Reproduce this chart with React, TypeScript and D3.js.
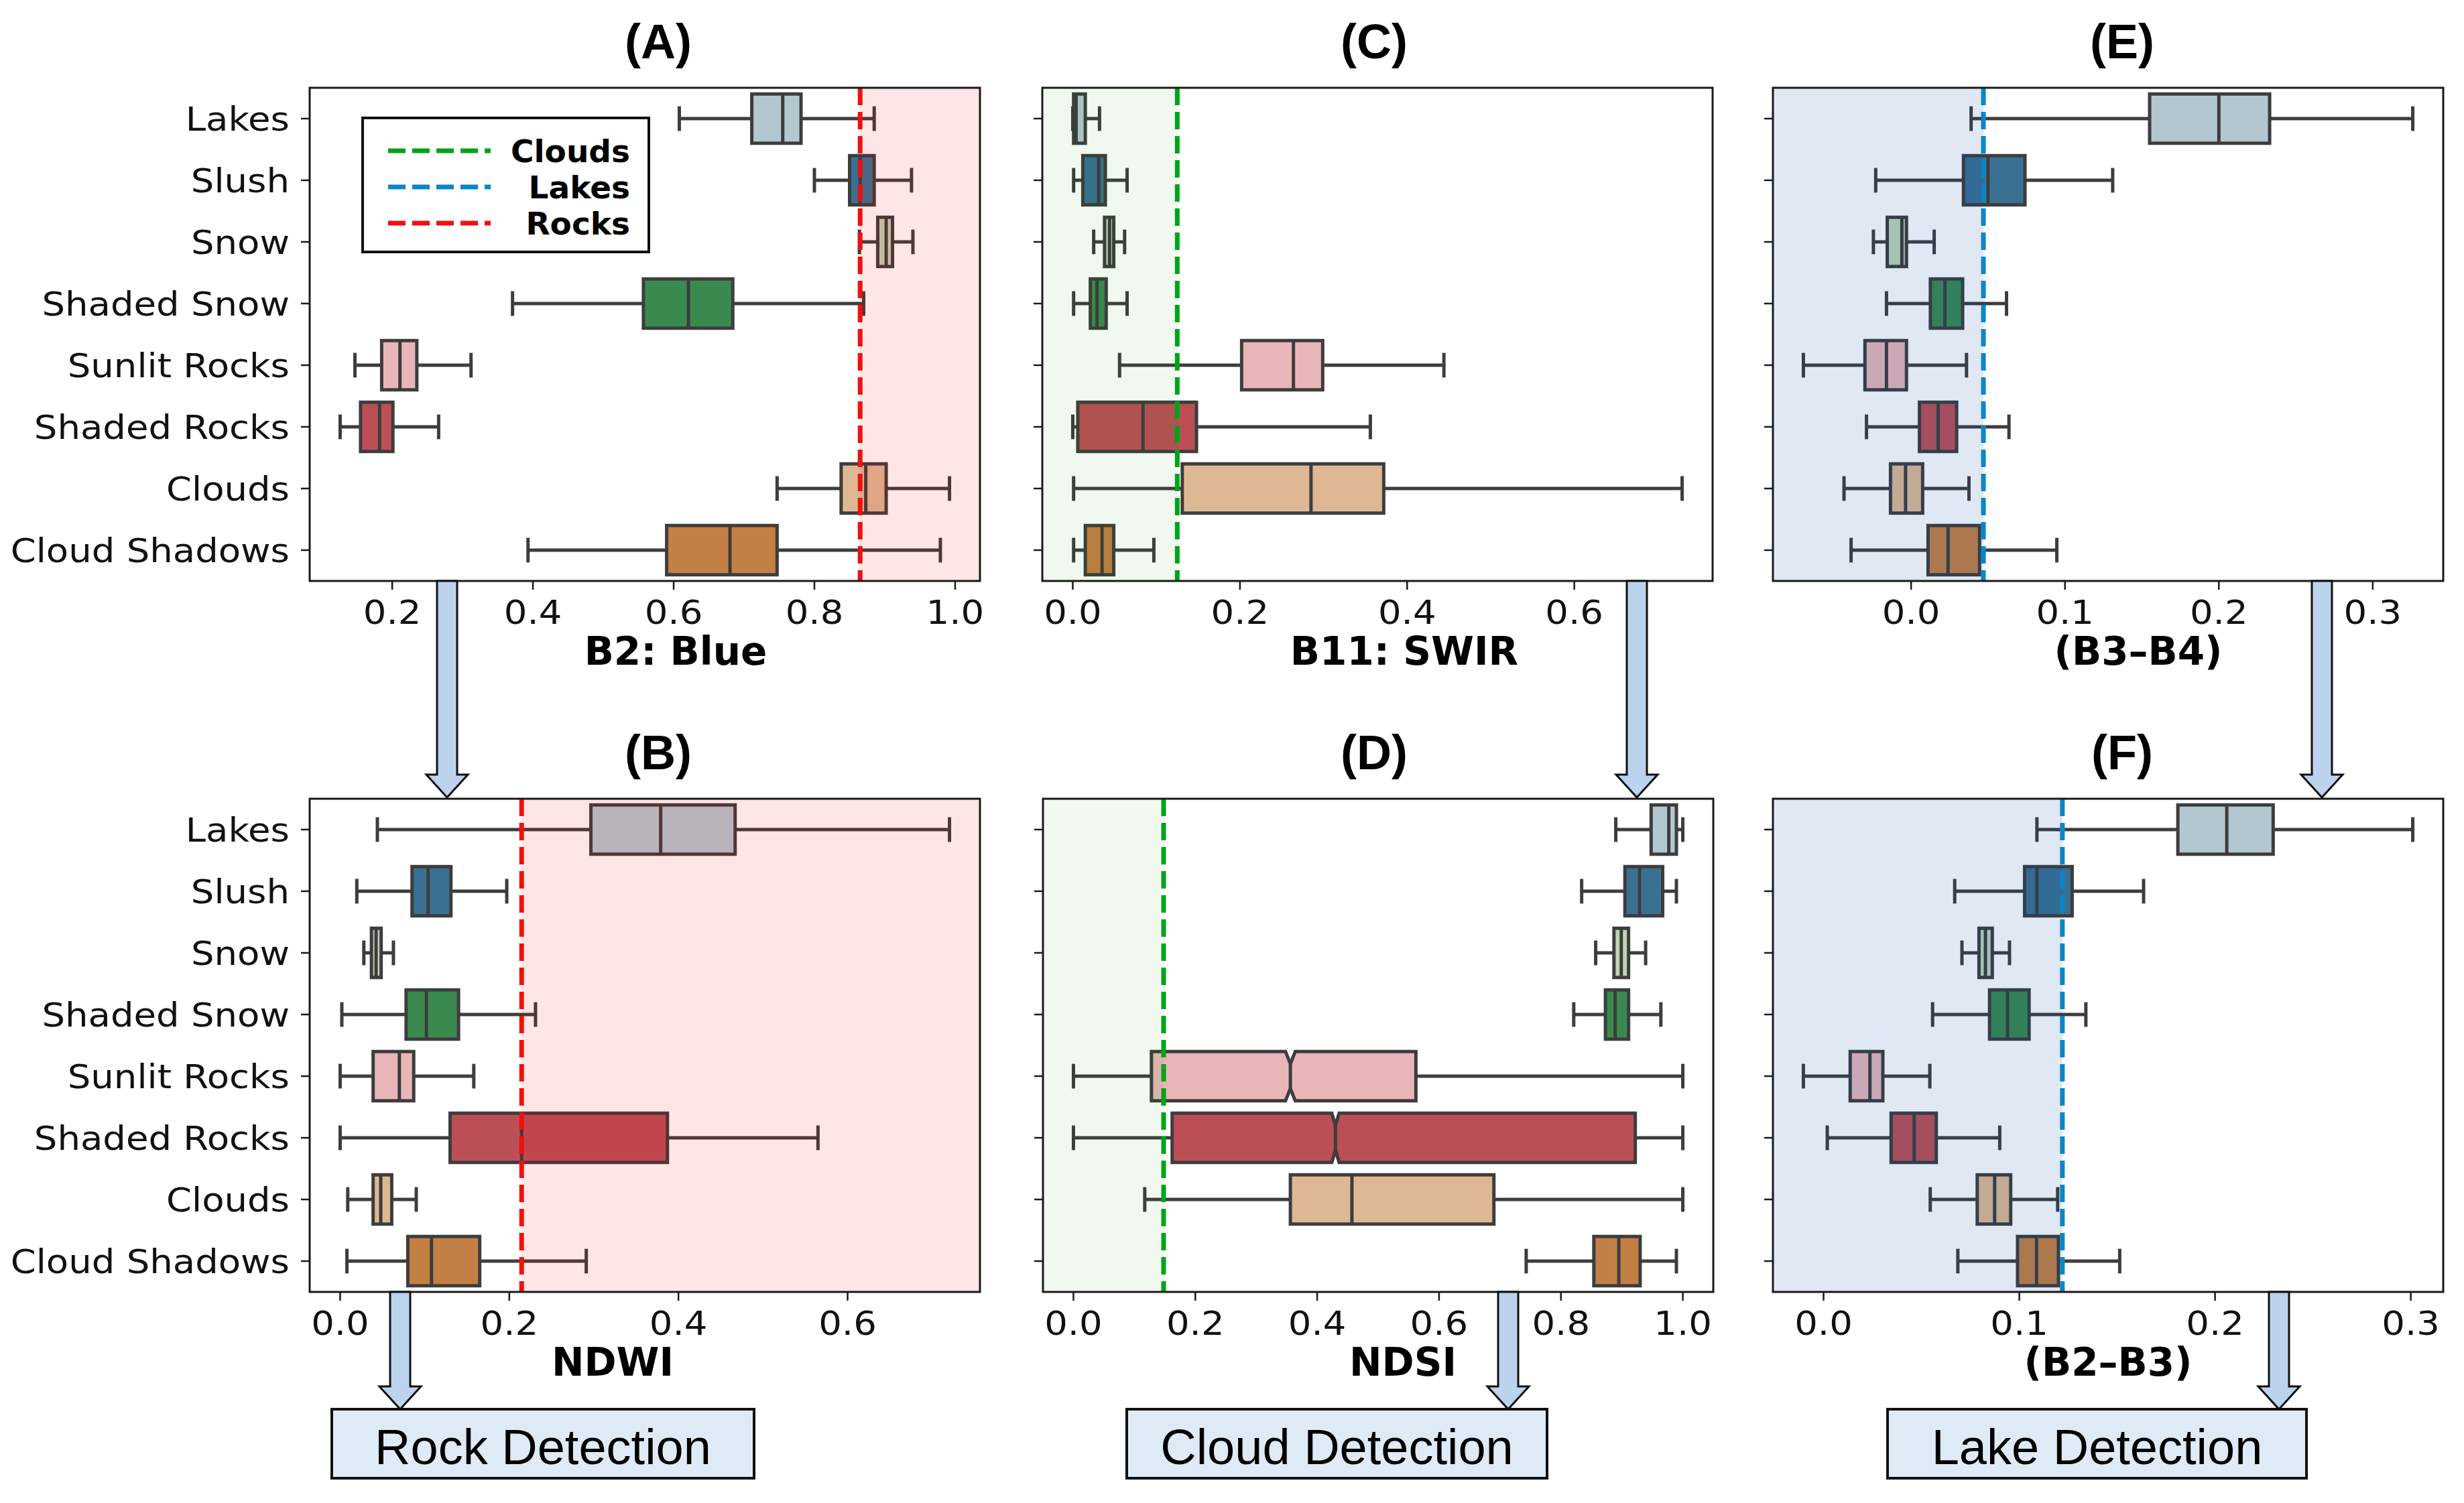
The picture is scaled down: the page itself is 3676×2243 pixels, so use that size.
import { useEffect } from "react"
import * as d3 from "d3"

// Classes on the y axis (top to bottom) and their box colours
const categories = ["Lakes", "Slush", "Snow", "Shaded Snow", "Sunlit Rocks", "Shaded Rocks", "Clouds", "Cloud Shadows"]
const classColors = ["#b3c7d0", "#3a7192", "#bdd4b5", "#3a8a50", "#e8b6b9", "#bc4f56", "#deb894", "#c47f45"]

// Box stats per class: [whisker low, q1, median, q3, whisker high]
const blueStats = [
  [0.608, 0.711, 0.755, 0.781, 0.885],
  [0.8, 0.85, 0.865, 0.885, 0.938],
  [0.864, 0.89, 0.902, 0.911, 0.94],
  [0.371, 0.557, 0.621, 0.684, 0.87],
  [0.147, 0.185, 0.211, 0.235, 0.312],
  [0.126, 0.155, 0.182, 0.201, 0.266],
  [0.747, 0.838, 0.873, 0.902, 0.992],
  [0.393, 0.59, 0.68, 0.747, 0.979],
]
const swirStats = [
  [0.0, 0.001, 0.004, 0.015, 0.032],
  [0.001, 0.012, 0.031, 0.039, 0.065],
  [0.025, 0.038, 0.044, 0.049, 0.062],
  [0.001, 0.021, 0.029, 0.04, 0.065],
  [0.056, 0.202, 0.264, 0.299, 0.444],
  [0.0, 0.006, 0.084, 0.148, 0.356],
  [0.001, 0.131, 0.285, 0.372, 0.729],
  [0.001, 0.015, 0.035, 0.049, 0.097],
]
const b3b4Stats = [
  [0.039, 0.155, 0.2, 0.233, 0.326],
  [-0.023, 0.034, 0.05, 0.074, 0.131],
  [-0.0245, -0.0155, -0.006, -0.003, 0.015],
  [-0.016, 0.0125, 0.022, 0.0335, 0.062],
  [-0.07, -0.03, -0.016, -0.003, 0.036],
  [-0.029, 0.0054, 0.0176, 0.0296, 0.0636],
  [-0.0436, -0.0134, -0.0036, 0.0075, 0.0376],
  [-0.039, 0.011, 0.024, 0.0445, 0.0947],
]
const ndwiStats = [
  [0.044, 0.2965, 0.379, 0.467, 0.7205],
  [0.0197, 0.085, 0.104, 0.131, 0.197],
  [0.028, 0.037, 0.0425, 0.0485, 0.063],
  [0.002, 0.078, 0.102, 0.14, 0.231],
  [0.0, 0.039, 0.07, 0.087, 0.158],
  [0.0, 0.13, 0.2146, 0.387, 0.565],
  [0.009, 0.039, 0.048, 0.061, 0.09],
  [0.008, 0.08, 0.108, 0.165, 0.291],
]
const ndsiStats = [
  [0.89, 0.948, 0.977, 0.9895, 1.0],
  [0.834, 0.905, 0.929, 0.967, 0.9895],
  [0.857, 0.887, 0.899, 0.911, 0.939],
  [0.821, 0.873, 0.889, 0.911, 0.964],
  [0.0, 0.128, 0.356, 0.562, 1.0],
  [0.0, 0.162, 0.43, 0.922, 1.0],
  [0.117, 0.356, 0.457, 0.69, 1.0],
  [0.743, 0.854, 0.895, 0.93, 0.9895],
]
// notch half-widths for NDSI (only the two rock classes are notched)
const ndsiNotch = [0, 0, 0, 0, 0.008, 0.006, 0, 0]
const b2b3Stats = [
  [0.109, 0.181, 0.206, 0.2297, 0.301],
  [0.067, 0.1027, 0.109, 0.127, 0.1635],
  [0.0707, 0.0794, 0.0827, 0.0862, 0.095],
  [0.0557, 0.0848, 0.094, 0.105, 0.134],
  [-0.0103, 0.0136, 0.0237, 0.0303, 0.0543],
  [0.0019, 0.0345, 0.0463, 0.0576, 0.09],
  [0.0545, 0.0785, 0.0874, 0.0956, 0.1196],
  [0.0686, 0.0991, 0.1088, 0.12, 0.1513],
]

// tick values and thresholds
const ticksBlue = [0.2, 0.4, 0.6, 0.8, 1.0]
const ticksSwir = [0.0, 0.2, 0.4, 0.6]
const ticksB3B4 = [0.0, 0.1, 0.2, 0.3]
const ticksNdwi = [0.0, 0.2, 0.4, 0.6]
const ticksNdsi = [0.0, 0.2, 0.4, 0.6, 0.8, 1.0]
const ticksB2B3 = [0.0, 0.1, 0.2, 0.3]
const thresholds = { blue: 0.865, swir: 0.125, b3b4: 0.047, ndwi: 0.2146, ndsi: 0.148, b2b3: 0.122 }

const legendNames = ["Clouds", "Lakes", "Rocks"]
const detections = ["Rock Detection", "Cloud Detection", "Lake Detection"]

const RED = "#f01010"
const GREEN = "#00a31a"
const BLUE = "#0a86c8"
const EDGE = "#3d3d3d"
const SANS = "'DejaVu Sans', sans-serif"
const ARIAL = "'Liberation Sans', Arial, sans-serif"

const PW = 1000
const PH = 736
const FS = 50 // tick / category font size
const SX = 1.09 // the original text is a little stretched horizontally

const panels = [
  { title: "(A)", titleX: 982, x0: 462, y0: 131, stats: blueStats, ticks: ticksBlue, thr: thresholds.blue, color: RED, shade: "right", shadeFill: "rgb(255,0,0)", shadeOp: 0.1, xlabel: "B2: Blue", xlabelX: 1008, labels: true, legend: true },
  { title: "(C)", titleX: 2050, x0: 1555, y0: 131, stats: swirStats, ticks: ticksSwir, thr: thresholds.swir, color: GREEN, shade: "left", shadeFill: "rgb(0,128,0)", shadeOp: 0.06, xlabel: "B11: SWIR", xlabelX: 2095 },
  { title: "(E)", titleX: 3166, x0: 2645, y0: 131, stats: b3b4Stats, ticks: ticksB3B4, thr: thresholds.b3b4, color: BLUE, shade: "left", shadeFill: "rgb(0,71,159)", shadeOp: 0.125, xlabel: "(B3–B4)", xlabelX: 3190 },
  { title: "(B)", titleX: 982, x0: 462, y0: 1192, stats: ndwiStats, ticks: ticksNdwi, thr: thresholds.ndwi, color: RED, shade: "right", shadeFill: "rgb(255,0,0)", shadeOp: 0.1, xlabel: "NDWI", xlabelX: 914, labels: true },
  { title: "(D)", titleX: 2050, x0: 1556, y0: 1192, stats: ndsiStats, notch: ndsiNotch, ticks: ticksNdsi, thr: thresholds.ndsi, color: GREEN, shade: "left", shadeFill: "rgb(0,128,0)", shadeOp: 0.06, xlabel: "NDSI", xlabelX: 2093 },
  { title: "(F)", titleX: 3166, x0: 2645, y0: 1192, stats: b2b3Stats, ticks: ticksB2B3, thr: thresholds.b2b3, color: BLUE, shade: "left", shadeFill: "rgb(0,71,159)", shadeOp: 0.125, xlabel: "(B2–B3)", xlabelX: 3145 },
]

// arrows: [x, yStart, yTip]
const arrows = [
  [667, 867, 1190],
  [2442, 867, 1190],
  [3464, 867, 1190],
  [597, 1928, 2103],
  [2250, 1928, 2103],
  [3400, 1928, 2103],
]
const detectionBoxes = [
  [495, 1125],
  [1681, 2308],
  [2816, 3441],
]

function Panel({ p, idx }: any) {
  const lo = d3.min(p.stats, (d: number[]) => d[0]) as number
  const hi = d3.max(p.stats, (d: number[]) => d[4]) as number
  const pad = (hi - lo) * 0.05
  const x = d3.scaleLinear().domain([lo - pad, hi + pad]).range([p.x0, p.x0 + PW])
  const y = d3.scaleBand().domain(categories).range([p.y0, p.y0 + PH])
  const bw = y.bandwidth() * 0.8
  const cap = bw / 2
  const fmt = d3.format(".1f")
  const xt = x(p.thr)
  const clipId = `clip-${idx}`
  const bottom = p.y0 + PH

  return (
    <g>
      <defs>
        <clipPath id={clipId}>
          <rect x={p.x0} y={p.y0} width={PW} height={PH} />
        </clipPath>
      </defs>
      <rect x={p.x0} y={p.y0} width={PW} height={PH} fill="#fff" />
      <g clipPath={`url(#${clipId})`}>
        {p.stats.map((s: number[], i: number) => {
          const cy = (y(categories[i]) as number) + y.bandwidth() / 2
          const top = cy - bw / 2
          const bot = cy + bw / 2
          const n = p.notch ? p.notch[i] : 0
          let boxPath: string
          let medTop = top
          let medBot = bot
          if (n > 0) {
            const d = bw / 4
            medTop = top + d
            medBot = bot - d
            boxPath = `M${x(s[1])},${top}L${x(s[2] - n)},${top}L${x(s[2])},${top + d}L${x(s[2] + n)},${top}L${x(s[3])},${top}` +
              `L${x(s[3])},${bot}L${x(s[2] + n)},${bot}L${x(s[2])},${bot - d}L${x(s[2] - n)},${bot}L${x(s[1])},${bot}Z`
          } else {
            boxPath = `M${x(s[1])},${top}H${x(s[3])}V${bot}H${x(s[1])}Z`
          }
          return (
            <g key={i}>
              <line x1={x(s[0])} x2={x(s[1])} y1={cy} y2={cy} stroke={EDGE} strokeWidth={5} />
              <line x1={x(s[3])} x2={x(s[4])} y1={cy} y2={cy} stroke={EDGE} strokeWidth={5} />
              <line x1={x(s[0])} x2={x(s[0])} y1={cy - cap / 2} y2={cy + cap / 2} stroke={EDGE} strokeWidth={5} />
              <line x1={x(s[4])} x2={x(s[4])} y1={cy - cap / 2} y2={cy + cap / 2} stroke={EDGE} strokeWidth={5} />
              <path d={boxPath} fill={classColors[i]} stroke={EDGE} strokeWidth={5} strokeLinejoin="miter" />
              <line x1={x(s[2])} x2={x(s[2])} y1={medTop} y2={medBot} stroke={EDGE} strokeWidth={5} />
            </g>
          )
        })}
        {p.shade === "right" ? (
          <rect x={xt} y={p.y0} width={p.x0 + PW - xt} height={PH} fill={p.shadeFill} fillOpacity={p.shadeOp} />
        ) : (
          <rect x={p.x0} y={p.y0} width={xt - p.x0} height={PH} fill={p.shadeFill} fillOpacity={p.shadeOp} />
        )}
        <line x1={xt} x2={xt} y1={p.y0} y2={bottom} stroke={p.color} strokeWidth={7} strokeDasharray="26 10" />
      </g>
      <rect x={p.x0} y={p.y0} width={PW} height={PH} fill="none" stroke="#1a1a1a" strokeWidth={3} />
      {/* y ticks and labels */}
      {categories.map((c, i) => {
        const cy = (y(c) as number) + y.bandwidth() / 2
        return (
          <g key={c}>
            <line x1={p.x0 - 13} x2={p.x0} y1={cy} y2={cy} stroke="#1a1a1a" strokeWidth={2.5} />
            {p.labels && (
              <text transform={`translate(${p.x0 - 30},${cy}) scale(${SX},1)`} dy="0.36em" textAnchor="end" fontFamily={SANS} fontSize={FS} fill="#111">
                {c}
              </text>
            )}
          </g>
        )
      })}
      {/* x ticks */}
      {p.ticks.map((t: number) => (
        <g key={t}>
          <line x1={x(t)} x2={x(t)} y1={bottom} y2={bottom + 13} stroke="#1a1a1a" strokeWidth={2.5} />
          <text transform={`translate(${x(t)},${bottom + 64}) scale(${SX},1)`} textAnchor="middle" fontFamily={SANS} fontSize={FS} fill="#111">
            {fmt(t)}
          </text>
        </g>
      ))}
      <text x={p.xlabelX} y={p.y0 + 861} textAnchor="middle" fontFamily={SANS} fontWeight="bold" fontSize={58} fill="#000">
        {p.xlabel}
      </text>
      <text x={p.titleX} y={p.y0 - 44} textAnchor="middle" fontFamily={ARIAL} fontWeight="bold" fontSize={72} fill="#000">
        {p.title}
      </text>
      {p.legend && (
        <g>
          <rect x={541} y={176} width={427} height={200} fill="#fff" stroke="#111" strokeWidth={4} />
          {legendNames.map((name, i) => {
            const ly = 225 + i * 54
            const col = [GREEN, BLUE, RED][i]
            return (
              <g key={name}>
                <line x1={579} x2={732} y1={ly} y2={ly} stroke={col} strokeWidth={7} strokeDasharray="26 10" />
                <text x={940} y={ly} dy="0.36em" textAnchor="end" fontFamily={SANS} fontWeight="bold" fontSize={47} fill="#000">
                  {name}
                </text>
              </g>
            )
          })}
        </g>
      )}
    </g>
  )
}

function Arrow({ a }: any) {
  const [cx, y0, tip] = a
  const sw = 15
  const hw = 31
  const hl = 34
  const d = `M${cx - sw},${y0}H${cx + sw}V${tip - hl}H${cx + hw}L${cx},${tip}L${cx - hw},${tip - hl}H${cx - sw}Z`
  return <path d={d} fill="#bcd3ee" stroke="#111" strokeWidth={3} strokeLinejoin="miter" />
}

export default function App() {
  useEffect(() => {
    document.body.style.margin = "0"
  }, [])
  return (
    <svg width={3676} height={2243} viewBox="0 0 3676 2243" style={{ display: "block", background: "#fff" }}>
      <rect width={3676} height={2243} fill="#fff" />
      {panels.map((p, i) => (
        <Panel key={p.title} p={p} idx={i} />
      ))}
      {arrows.map((a, i) => (
        <Arrow key={i} a={a} />
      ))}
      {detectionBoxes.map(([x1, x2], i) => (
        <g key={i}>
          <rect x={x1} y={2103} width={x2 - x1} height={103} fill="#deebf7" stroke="#111" strokeWidth={4} />
          <text x={(x1 + x2) / 2} y={2185} textAnchor="middle" fontFamily={ARIAL} fontSize={74} fill="#000">
            {detections[i]}
          </text>
        </g>
      ))}
    </svg>
  )
}
